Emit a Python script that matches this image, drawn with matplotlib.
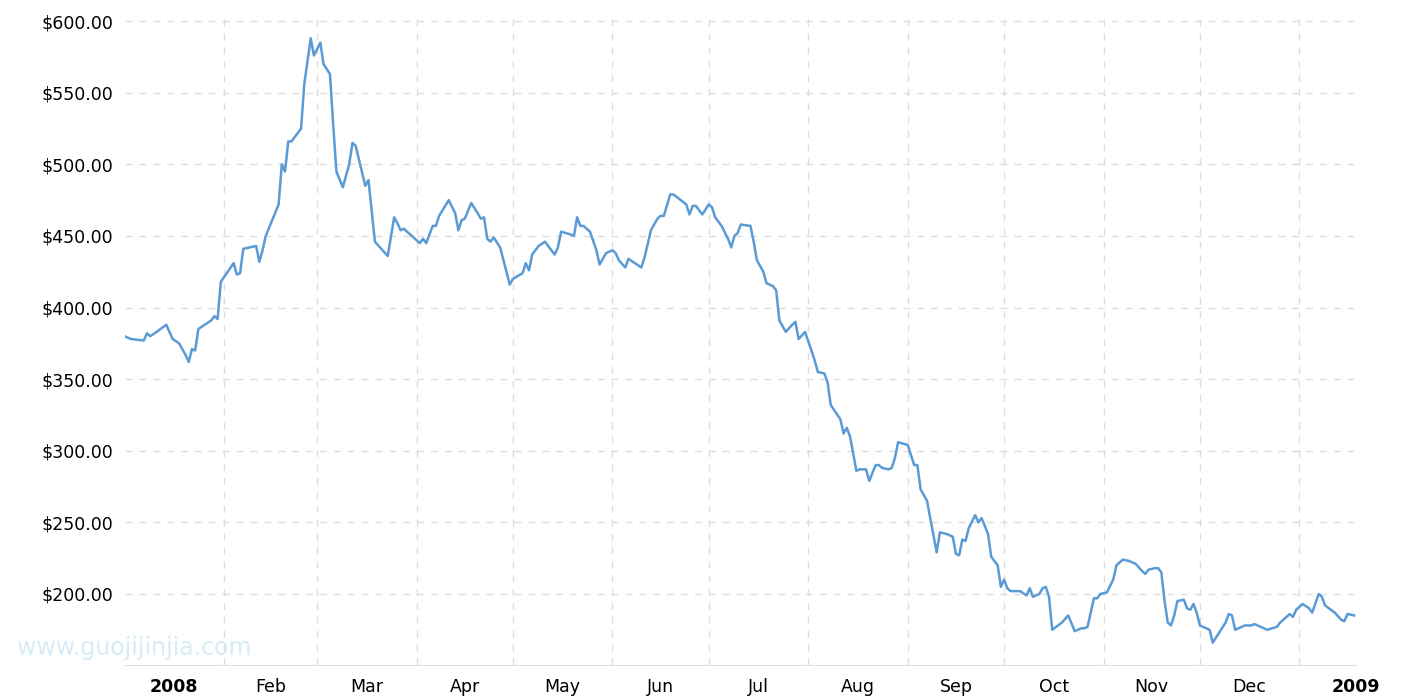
import matplotlib
matplotlib.use("Agg")
import matplotlib.pyplot as plt
import numpy as np

days = [0,2,6,7,8,10,13,15,17,19,20,21,22,23,27,28,29,30,34,35,36,37,41,42,43,44,48,49,50,51,52,55,56,58,59,61,62,64,65,66,68,70,71,72,75,76,78,82,84,85,86,87,89,90,92,93,94,96,97,98,101,103,104,105,106,108,110,111,112,113,114,115,117,119,120,121,124,125,126,127,129,131,133,134,135,136,139,140,141,142,143,145,147,148,150,152,153,154,156,157,161,162,164,166,167,168,170,171,175,176,177,178,180,182,183,184,186,188,189,190,191,192,195,196,197,199,200,202,203,204,206,208,209,210,212,214,215,216,218,219,220,223,224,225,226,228,229,231,232,234,235,236,238,239,240,241,244,246,247,248,250,253,254,256,258,259,260,261,262,263,265,266,267,269,270,272,273,274,275,276,279,281,282,283,285,286,287,288,289,292,294,296,298,299,300,302,303,304,306,308,309,311,313,315,317,318,319,321,322,323,324,325,326,327,328,330,331,332,333,334,335,337,338,339,343,344,345,346,349,351,352,355,356,359,360,363,364,365,367,369,370,372,373,374,377,379,380,381,383]
prices = [380,378,377,382,380,383,388,378,375,367,362,371,370,385,391,394,392,418,431,423,424,441,443,432,440,450,472,500,495,516,516,525,556,588,576,585,570,563,528,495,484,500,515,513,485,489,446,436,463,459,454,455,451,449,445,448,445,457,457,464,475,466,454,461,462,473,466,462,463,448,446,449,442,425,416,420,424,431,426,437,443,446,440,437,442,453,451,450,463,457,457,453,440,430,438,440,438,433,428,434,428,435,454,462,464,464,479,479,472,465,471,471,465,472,470,463,457,448,442,450,452,458,457,446,433,425,417,415,412,391,383,388,390,378,383,370,363,355,354,348,332,322,312,316,310,286,287,287,279,290,290,288,287,288,295,306,304,290,290,273,265,229,243,242,240,228,227,238,237,246,255,250,253,242,226,220,205,210,204,202,202,199,204,198,200,204,205,198,175,180,185,174,176,176,177,197,197,200,201,210,220,224,223,221,216,214,217,218,218,215,195,180,178,185,195,196,190,189,193,187,178,176,175,166,180,186,185,175,178,178,179,176,175,177,180,186,184,189,193,190,187,200,198,192,187,182,181,186,185]
month_starts = [31,60,91,121,152,182,213,244,274,305,335,366]
month_labels = ["2008","Feb","Mar","Apr","May","Jun","Jul","Aug","Sep","Oct","Nov","Dec","2009"]
yticks = [200,250,300,350,400,450,500,550,600]

fig = plt.figure(figsize=(14.15,7), dpi=100)
ax = fig.add_axes([0.088,0.05,0.87,0.928])
ax.plot(days, prices, color="#5b9bd5", lw=1.8)
ax.set_xlim(0,383)
ax.set_ylim(150.4,604)
ax.set_xticks(month_starts)
ax.set_xticklabels([])
ax.tick_params(axis='x', length=0)
mids = [0]+month_starts
centers = [(a+b)/2 for a,b in zip(mids, mids[1:]+[401])]
ax.set_xticks(centers, minor=True)
ax.set_xticklabels(month_labels, minor=True, fontsize=12.5)
for lbl in ax.get_xticklabels(minor=True):
    if lbl.get_text() in ("2008","2009"):
        lbl.set_fontweight("bold")
ax.tick_params(axis='x', which='minor', length=0, pad=9)
ax.set_yticks(yticks)
ax.set_yticklabels([f"${v:.2f}" for v in yticks], fontsize=12.5)
ax.tick_params(axis='y', length=0, pad=8)
ax.grid(True, color="#dddddd", linestyle=(0,(5,5)), lw=1)
for s in ax.spines.values():
    s.set_visible(False)
ax.spines['bottom'].set_visible(True)
ax.spines['bottom'].set_color("#dddddd")
fig.text(0.012,0.065,"www.guojijinjia.com",color="#d6ecf7",fontsize=17)
fig.savefig("out.png")
